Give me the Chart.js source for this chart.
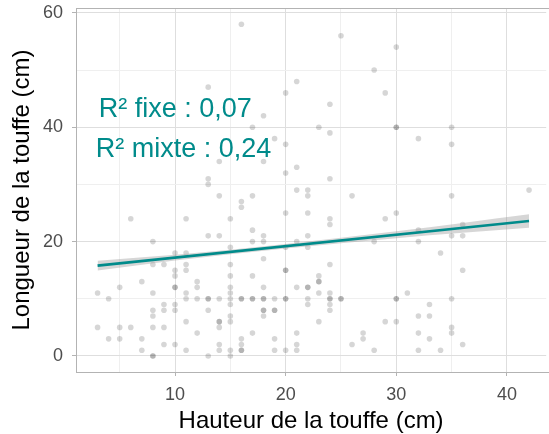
<!DOCTYPE html>
<html>
<head>
<meta charset="utf-8">
<script src="https://cdn.jsdelivr.net/npm/chart.js@4/dist/chart.umd.min.js"></script>
<style>
  html, body { margin: 0; padding: 0; background: #ffffff; }
  #wrap { width: 549px; height: 434px; position: relative; }
</style>
</head>
<body>
<div id="wrap"><canvas id="c" width="549" height="434"></canvas></div>
<script>
// ---- Data ----
const tuftHeight = [
  3,3, 4,4, 5,5,5, 6,6, 7,7,7,
  8,8,8,8,8,8,8,8,
  9,9,9,9,9,
  10,10,10,10,10,10,10,10,
  11,11,11,11,11,11,11,11,
  12,12,12,12,
  13,13,13,13,13,13,13,13,
  14,14,14,14,14,14,14,14,14,
  15,15,15,15,15,15,15,15,15,15,15,15,
  16,16,16,16,16,16,16,16,16,
  17,17,17,17,17,17,17,17,
  18,18,18,18,18,18,18,18,18,18,18,
  19,19,19,19,19,19,
  20,20,20,20,20,20,20,20,20,20,
  21,21,21,21,21,21,21,21,
  22,22,22,22,22,22,22,22,22,
  23,23,23,23,23,23,
  24,24,24,24,24,24,24,24,24,24,24,
  25,25,25, 26,26, 27,27, 28,28,28, 29,29,29,
  30,30,30,30,30,30,30, 31,
  32,32,32,32,32,32, 33,33,33, 34,34,
  35,35,35,35,35,35,35, 36,36,36,36, 42
];
const tuftLength = [
  11,5, 10,3, 12,5,3, 24,5, 13,3,1,
  20,16,11,8,7,5,0,0,
  16,9,8,5,2,
  18,15,14,12,12,9,8,2,
  24,18,16,15,11,10,6,1,
  13,12,10,4,
  47,31,30,21,10,10,8,0,
  34,28,21,10,6,6,5,2,1,
  24,19,16,14,12,11,10,9,7,6,1,0,
  58,27,26,10,10,3,2,1,1,
  40,28,22,20,14,10,10,4,
  42,34,21,20,17,12,10,10,8,8,7,
  38,10,8,8,3,1,
  46,37,32,25,19,15,15,10,10,1,
  48,33,29,20,12,4,2,1,
  29,28,25,21,19,12,12,10,9,
  40,14,13,13,11,6,
  44,39,31,24,23,16,11,10,10,9,8,
  56,10,10, 28,2, 4,3, 50,20,1, 46,24,6,
  54,40,40,25,10,10,6, 11,
  38,22,20,7,4,1, 9,7,3, 18,1,
  40,37,28,21,10,5,4, 23,21,15,2, 29
];

// fitted line and its confidence band
const fitX = [3, 42];
const fitY = [15.8, 23.6];
const bandX = [3, 10, 20, 30, 42];
const bandLow = [14.95, 16.7, 18.8, 20.6, 22.4];
const bandHigh = [16.65, 17.7, 19.6, 21.8, 24.8];

// annotation text
const noteText = ['R² fixe : 0,07', 'R² mixte : 0,24'];
const noteX = [10.02, 10.77];
const noteY = [41.84, 34.84];

// axis ticks
const xTicks = [5, 10, 15, 20, 25, 30, 35, 40];
const xMajor = [10, 20, 30, 40];
const yTicks = [0, 10, 20, 30, 40, 50, 60];
const yMajor = [0, 20, 40, 60];

// ---- Chart ----
const FONT = '"Liberation Sans", Arial, Helvetica, sans-serif';
const TEAL = '#008b8b';

const points = tuftHeight.map((h, i) => ({ x: h, y: tuftLength[i] }));

const decor = {
  id: 'decor',
  afterDatasetsDraw(chart) {
    const { ctx, chartArea: ca, scales: { x, y } } = chart;
    ctx.save();
    // panel border (theme_light)
    ctx.strokeStyle = '#b3b3b3';
    ctx.lineWidth = 1;
    ctx.strokeRect(ca.left + 0.5, ca.top + 0.5, ca.right - ca.left + 10, ca.bottom - ca.top);
    // annotation
    ctx.font = '27px ' + FONT;
    ctx.fillStyle = TEAL;
    ctx.textAlign = 'center';
    ctx.textBaseline = 'alphabetic';
    noteText.forEach((t, i) => {
      ctx.fillText(t, x.getPixelForValue(noteX[i]), y.getPixelForValue(noteY[i]));
    });
    ctx.restore();
  }
};

new Chart(document.getElementById('c'), {
  type: 'scatter',
  data: {
    datasets: [
      {
        type: 'line',
        data: fitX.map((v, i) => ({ x: v, y: fitY[i] })),
        borderColor: TEAL,
        borderWidth: 2.6,
        pointRadius: 0,
        fill: false,
        tension: 0
      },
      {
        type: 'line',
        data: bandX.map((v, i) => ({ x: v, y: bandHigh[i] })),
        borderWidth: 0,
        borderColor: 'rgba(0,0,0,0)',
        pointRadius: 0,
        backgroundColor: 'rgba(153,153,153,0.4)',
        fill: '+1',
        tension: 0.4,
        cubicInterpolationMode: 'monotone'
      },
      {
        type: 'line',
        data: bandX.map((v, i) => ({ x: v, y: bandLow[i] })),
        borderWidth: 0,
        borderColor: 'rgba(0,0,0,0)',
        pointRadius: 0,
        fill: false,
        tension: 0.4,
        cubicInterpolationMode: 'monotone'
      },
      {
        type: 'scatter',
        data: points,
        pointRadius: 2.8,
        pointHoverRadius: 2.8,
        backgroundColor: 'rgba(0,0,0,0.16)',
        borderWidth: 0
      }
    ]
  },
  options: {
    responsive: false,
    animation: false,
    events: [],
    layout: { padding: { top: 8, left: 0, right: 0, bottom: 0 } },
    plugins: {
      legend: { display: false },
      tooltip: { enabled: false }
    },
    scales: {
      x: {
        type: 'linear',
        min: 1.05,
        max: 43.55,
        afterBuildTicks: s => { s.ticks = xTicks.map(v => ({ value: v })); },
        afterFit: s => { s.height = 62; s.paddingLeft = 0; s.paddingRight = 0; },
        border: { display: false },
        grid: {
          color: c => (c.tick && xMajor.includes(c.tick.value)) ? '#dedede' : '#efefef',
          tickColor: c => (c.tick && xMajor.includes(c.tick.value)) ? '#b3b3b3' : 'rgba(0,0,0,0)',
          tickLength: 4,
          lineWidth: 1
        },
        ticks: {
          autoSkip: false,
          maxRotation: 0,
          padding: 8,
          color: '#4d4d4d',
          font: { size: 18, family: FONT },
          callback: v => xMajor.includes(v) ? String(v) : ''
        },
        title: {
          display: true,
          text: 'Hauteur de la touffe (cm)',
          color: '#000000',
          font: { size: 24, family: FONT, lineHeight: 1 },
          padding: 1
        }
      },
      y: {
        type: 'linear',
        min: -2.8,
        max: 60.84,
        afterBuildTicks: s => { s.ticks = yTicks.map(v => ({ value: v })); },
        afterFit: s => { s.width = 76; s.paddingTop = 0; s.paddingBottom = 0; },
        border: { display: false },
        grid: {
          color: c => (c.tick && yMajor.includes(c.tick.value)) ? '#dedede' : '#efefef',
          tickColor: c => (c.tick && yMajor.includes(c.tick.value)) ? '#b3b3b3' : 'rgba(0,0,0,0)',
          tickLength: 4,
          lineWidth: 1
        },
        ticks: {
          autoSkip: false,
          padding: 9,
          color: '#4d4d4d',
          font: { size: 18, family: FONT },
          callback: v => yMajor.includes(v) ? String(v) : ''
        },
        title: {
          display: true,
          text: 'Longueur de la touffe (cm)',
          color: '#000000',
          font: { size: 24, family: FONT, lineHeight: 1 },
          padding: { top: 10.7, bottom: 0 }
        }
      }
    }
  },
  plugins: [decor]
});
</script>
</body>
</html>
